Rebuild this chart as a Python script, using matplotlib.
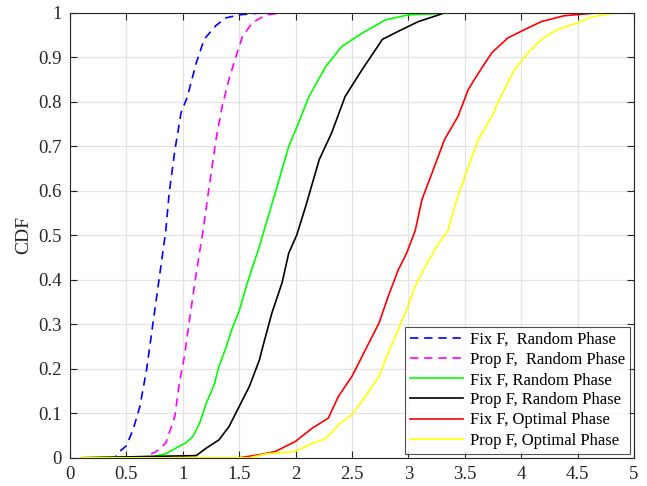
import matplotlib.pyplot as plt

plt.rcParams['font.family'] = ['Liberation Serif', 'DejaVu Serif']

# CDF curves
fixF_rand_dash_x = [0.1, 0.4, 0.44, 0.5, 0.56, 0.62, 0.68, 0.735, 0.79, 0.85, 0.88, 0.93, 0.985,
                    1.04, 1.12, 1.19, 1.29, 1.38, 1.5, 1.68, 1.82, 5.0]
fixF_rand_dash_y = [0.0, 0.0, 0.014, 0.027, 0.063, 0.115, 0.198, 0.30, 0.40, 0.51, 0.595, 0.69, 0.775,
                    0.81, 0.887, 0.94, 0.97, 0.988, 0.995, 0.999, 1.0, 1.0]

propF_rand_dash_x = [0.1, 0.65, 0.765, 0.85, 0.93, 0.97, 1.015, 1.06, 1.12, 1.18, 1.235, 1.295, 1.35,
                     1.41, 1.47, 1.53, 1.62, 1.74, 1.91, 5.0]
propF_rand_dash_y = [0.0, 0.0, 0.014, 0.033, 0.093, 0.168, 0.228, 0.31, 0.415, 0.51, 0.61, 0.715, 0.79,
                     0.85, 0.90, 0.947, 0.978, 0.995, 1.0, 1.0]

fixF_rand_x = [0.1, 0.735, 0.85, 0.94, 1.03, 1.09, 1.15, 1.21, 1.28, 1.32, 1.38, 1.43, 1.5, 1.57,
               1.62, 1.68, 1.72, 1.82, 1.94, 2.015, 2.12, 2.27, 2.41, 2.59, 2.8, 3.0, 3.47, 5.0]
fixF_rand_y = [0.0, 0.003, 0.009, 0.022, 0.034, 0.048, 0.078, 0.123, 0.165, 0.205, 0.245, 0.285, 0.33, 0.39,
               0.43, 0.475, 0.51, 0.595, 0.70, 0.745, 0.812, 0.88, 0.924, 0.954, 0.984, 0.995, 1.0, 1.0]

propF_rand_x = [0.1, 1.12, 1.21, 1.32, 1.41, 1.5, 1.59, 1.68, 1.71, 1.79, 1.88, 1.94, 2.01, 2.09,
                2.21, 2.32, 2.44, 2.59, 2.77, 2.91, 3.09, 3.27, 3.32, 5.0]
propF_rand_y = [0.0, 0.005, 0.022, 0.04, 0.07, 0.115, 0.16, 0.22, 0.25, 0.325, 0.393, 0.46, 0.50, 0.565,
                0.67, 0.73, 0.812, 0.872, 0.94, 0.958, 0.98, 0.995, 1.0, 1.0]

fixF_opt_x = [0.1, 1.5, 1.68, 1.82, 2.0, 2.15, 2.29, 2.38, 2.5, 2.62, 2.74, 2.82, 2.91, 2.985, 3.06,
              3.12, 3.21, 3.32, 3.44, 3.53, 3.62, 3.74, 3.88, 4.03, 4.18, 4.38, 4.65, 4.75, 5.0]
fixF_opt_y = [0.0, 0.0, 0.007, 0.014, 0.037, 0.067, 0.089, 0.138, 0.183, 0.243, 0.303, 0.362, 0.422, 0.46, 0.51,
              0.58, 0.64, 0.715, 0.767, 0.827, 0.864, 0.91, 0.943, 0.962, 0.98, 0.993, 0.999, 1.0, 1.0]

propF_opt_x = [0.1, 1.59, 1.74, 1.99, 2.12, 2.27, 2.38, 2.5, 2.62, 2.74, 2.82, 2.91, 2.985, 3.06, 3.15,
               3.27, 3.35, 3.41, 3.5, 3.62, 3.74, 3.82, 3.94, 4.06, 4.18, 4.32, 4.5, 4.62, 4.8, 4.97]
propF_opt_y = [0.0, 0.0, 0.009, 0.014, 0.029, 0.044, 0.074, 0.097, 0.138, 0.183, 0.235, 0.288, 0.333, 0.385, 0.43,
               0.482, 0.51, 0.565, 0.632, 0.715, 0.767, 0.812, 0.872, 0.91, 0.94, 0.962, 0.977, 0.99, 0.998, 1.0]

labels = ['Fix F,  Random Phase', 'Prop F,  Random Phase', 'Fix F, Random Phase',
          'Prop F, Random Phase', 'Fix F, Optimal Phase', 'Prop F, Optimal Phase']

fig = plt.figure(figsize=(6.47, 4.86), dpi=100)
ax = fig.add_axes([0.108, 0.058, 0.872, 0.916])

ax.plot(fixF_rand_dash_x, fixF_rand_dash_y, color='#0000ff', ls=(0, (5, 3.5)), lw=1.2, label=labels[0])
ax.plot(propF_rand_dash_x, propF_rand_dash_y, color='#ff00ff', ls=(0, (5, 3.5)), lw=1.2, label=labels[1])
ax.plot(fixF_rand_x, fixF_rand_y, color='#00ff00', lw=1.2, label=labels[2])
ax.plot(propF_rand_x, propF_rand_y, color='black', lw=1.2, label=labels[3])
ax.plot(fixF_opt_x, fixF_opt_y, color='#ff0000', lw=1.2, label=labels[4])
ax.plot(propF_opt_x, propF_opt_y, color='#ffff00', lw=1.2, label=labels[5])

ax.set_xlim(0, 5)
ax.set_ylim(0, 1)
ax.set_xticks([0, 0.5, 1, 1.5, 2, 2.5, 3, 3.5, 4, 4.5, 5])
ax.set_xticklabels(['0', '0.5', '1', '1.5', '2', '2.5', '3', '3.5', '4', '4.5', '5'])
ax.set_yticks([i / 10 for i in range(11)])
ax.set_yticklabels(['0', '0.1', '0.2', '0.3', '0.4', '0.5', '0.6', '0.7', '0.8', '0.9', '1'])
ax.set_ylabel('CDF', fontsize=14, color='#262626', labelpad=4)

ax.grid(True, color='#e3e3e3', lw=0.9)
ax.set_axisbelow(True)
ax.tick_params(direction='in', top=True, right=True, length=5, width=0.8,
               labelsize=13.5, colors='#262626', pad=6)
for s in ax.spines.values():
    s.set_color('#262626')
    s.set_linewidth(0.8)

leg = ax.legend(loc='lower right', fontsize=12, frameon=True, fancybox=False,
                edgecolor='#262626', borderpad=0.3, labelspacing=0.25, handlelength=3.2,
                handletextpad=0.4, borderaxespad=0.25)
leg.get_frame().set_linewidth(0.8)

fig.savefig('out.png', dpi=100)
